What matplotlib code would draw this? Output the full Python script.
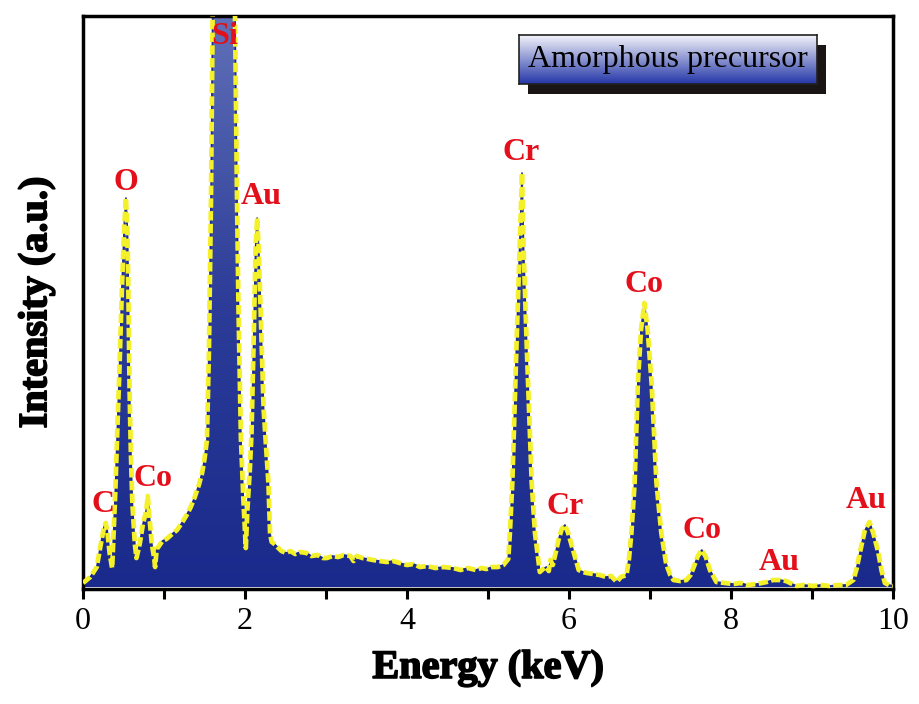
import numpy as np
import matplotlib
matplotlib.use('Agg')
import matplotlib.pyplot as plt
from matplotlib.colors import LinearSegmentedColormap
from matplotlib.patches import Polygon, Rectangle
import matplotlib.patheffects as pe

plt.rcParams['font.family'] = ['Liberation Serif', 'DejaVu Serif']

# EDS spectrum (energy in keV, intensity in a.u.)
energy = [0.00, 0.09, 0.17, 0.22, 0.26, 0.28, 0.30, 0.33, 0.36, 0.40, 0.42, 0.45, 0.48,
          0.51, 0.53, 0.55, 0.56, 0.575, 0.59, 0.61, 0.64, 0.66, 0.70, 0.74, 0.78, 0.80,
          0.82, 0.85, 0.88, 0.89, 0.91, 0.93, 0.98, 1.03, 1.10, 1.16, 1.22, 1.28, 1.33,
          1.38, 1.43, 1.47, 1.50, 1.53, 1.555, 1.58, 1.60, 1.63, 1.70, 1.75, 1.80, 1.85,
          1.877, 1.90, 1.92, 1.95, 1.98, 2.01, 2.03, 2.06, 2.08, 2.11, 2.13, 2.15, 2.17,
          2.20, 2.23, 2.27, 2.29, 2.31, 2.33, 2.35, 2.40, 2.45, 2.51, 2.56, 2.62, 2.68,
          2.76, 2.82, 2.90, 2.96, 3.01, 3.08, 3.15, 3.22, 3.30, 3.34, 3.38, 3.45, 3.52,
          3.58, 3.66, 3.75, 3.83, 3.91, 4.00, 4.08, 4.16, 4.25, 4.35, 4.45, 4.57, 4.66,
          4.75, 4.85, 4.92, 4.98, 5.05, 5.12, 5.19, 5.25, 5.27, 5.30, 5.35, 5.39, 5.42,
          5.44, 5.48, 5.54, 5.58, 5.64, 5.68, 5.72, 5.75, 5.77, 5.80, 5.84, 5.87, 5.91,
          5.95, 5.99, 6.05, 6.12, 6.17, 6.22, 6.30, 6.38, 6.46, 6.52, 6.59, 6.64, 6.71,
          6.74, 6.77, 6.81, 6.85, 6.89, 6.93, 6.97, 7.02, 7.08, 7.14, 7.20, 7.25, 7.29,
          7.37, 7.45, 7.50, 7.54, 7.59, 7.64, 7.69, 7.74, 7.82, 7.92, 8.03, 8.12, 8.20,
          8.32, 8.44, 8.52, 8.60, 8.68, 8.73, 8.81, 8.90, 9.02, 9.10, 9.22, 9.32, 9.42,
          9.51, 9.55, 9.59, 9.65, 9.71, 9.76, 9.82, 9.86, 9.90, 9.95, 10.00]
intensity = [6, 12, 22, 45, 62, 66, 58, 35, 21, 100, 150, 220, 300,
             365, 391, 355, 300, 200, 140, 85, 45, 31, 45, 65, 78, 93,
             72, 45, 30, 22, 40, 42, 48, 50, 55, 59, 66, 74, 82,
             92, 104, 116, 130, 149, 240, 390, 573, 800, 900, 950, 900, 800,
             573, 400, 280, 150, 90, 41, 80, 120, 155, 260, 340, 371, 340,
             260, 180, 130, 105, 55, 47, 46, 42, 38, 36, 38, 35, 37,
             36, 33, 34, 31, 31, 33, 32, 34, 33, 28, 33, 31, 30,
             29, 28, 27, 28, 26, 24, 25, 22, 23, 21, 22, 21, 19,
             21, 19, 21, 20, 22, 22, 24, 30, 56, 106, 239, 339, 416,
             339, 239, 106, 56, 17, 20, 22, 18, 29, 24, 38, 49, 60,
             64, 56, 39, 19, 17, 16, 15, 14, 12, 13, 7, 12, 14,
             30, 56, 106, 206, 260, 286, 260, 206, 106, 56, 25, 14, 9,
             8, 9, 14, 22, 33, 39, 32, 19, 7, 6, 5, 6, 4,
             5, 7, 9, 9, 8, 6, 3, 4, 3, 4, 3, 4, 4,
             9, 20, 36, 58, 67, 55, 36, 18, 6, 4, 3]

peak_labels = ['C', 'O', 'Co', 'Si', 'Au', 'Cr', 'Cr', 'Co', 'Co', 'Au', 'Au']
label_x = [0.25, 0.53, 0.86, 1.75, 2.20, 5.41, 5.95, 6.93, 7.64, 8.60, 9.67]
label_y = [84, 406, 111, 552, 393, 436, 83, 304, 59, 27, 89]

ymax = 573
base = 2

fig = plt.figure(figsize=(9.19, 7.04), dpi=100)
ax = fig.add_axes([83/919, 1 - 589/704, 810/919, 573/704])

# gradient filled spectrum
E = np.array(energy)
I = np.array(intensity)
verts = np.vstack([np.column_stack([E, I]), [[E[-1], base], [E[0], base]]])
poly = Polygon(verts, closed=True, facecolor='none', edgecolor='none')
ax.add_patch(poly)
cmap = LinearSegmentedColormap.from_list('fill', ['#1a2a8c', '#2c3c98', '#6070b8'])
grad = np.linspace(0, 1, 256).reshape(-1, 1)
im = ax.imshow(grad, extent=[0, 10, 0, ymax], origin='lower', aspect='auto',
               cmap=cmap, zorder=1)
im.set_clip_path(poly)

ax.plot(E, I, color='#1a2a8c', lw=1.2, zorder=2)
ax.plot(E, I, color='#f4f02a', lw=3.4, dashes=(2.0, 0.7), zorder=3)

for t, x, y in zip(peak_labels, label_x, label_y):
    ax.text(x, y, t, color='#e3101c', fontsize=23, fontweight='bold',
            ha='center', va='center', zorder=5)

ax.set_xlim(0, 10)
ax.set_ylim(0, ymax)
ax.set_xticks([0, 2, 4, 6, 8, 10])
ax.set_xticks([1, 3, 5, 7, 9], minor=True)
ax.set_yticks([])
ax.tick_params(axis='x', which='both', direction='out', length=7, width=2.2,
               labelsize=23, pad=6)
for s in ax.spines.values():
    s.set_linewidth(2.5)

stroke = [pe.withStroke(linewidth=1.2, foreground='black')]
ax.set_xlabel('Energy (keV)', fontsize=29, fontweight='bold', labelpad=10,
              path_effects=stroke)
ax.set_ylabel('Intensity (a.u.)', fontsize=29, fontweight='bold', labelpad=20,
              path_effects=stroke)

# title box with shadow
bx, by, bw, bh = 519/919, 1 - 84/704, 298/919, 49/704
sax = fig.add_axes([bx + 9/919, by - 10/704, bw, bh], zorder=4)
sax.set_facecolor('#1a1414')
sax.set_xticks([])
sax.set_yticks([])
for s in sax.spines.values():
    s.set_visible(False)
lax = fig.add_axes([bx, by, bw, bh], zorder=5)
lcmap = LinearSegmentedColormap.from_list('box', ['#2436a8', '#8a94d0', '#f4f4fb'])
lax.imshow(grad, extent=[0, 1, 0, 1], origin='lower', aspect='auto', cmap=lcmap)
lax.set_xticks([])
lax.set_yticks([])
for s in lax.spines.values():
    s.set_linewidth(1.2)
    s.set_color('#222222')
lax.text(0.5, 0.5, 'Amorphous precursor', fontsize=23, ha='center', va='center',
         transform=lax.transAxes, color='black')

fig.savefig('out.png', dpi=100)
